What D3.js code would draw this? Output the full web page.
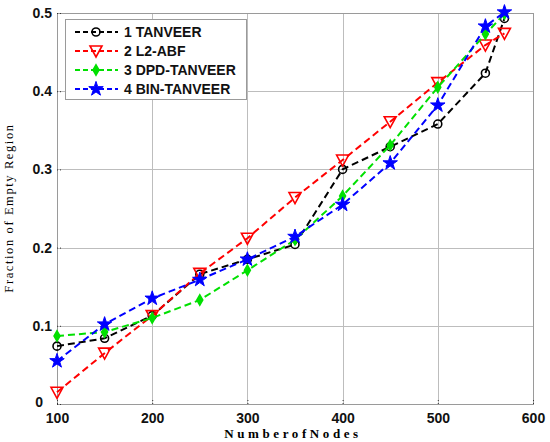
<!DOCTYPE html>
<html lang="en">
<head>
    <meta charset="utf-8">
    <script src="https://d3js.org/d3.v7.min.js"></script>
    <style>
        body { margin: 0; background: white; }
        .grid line { stroke: #bdbdbd; stroke-width: 1; shape-rendering: crispEdges; }
        .grid path { stroke-width: 0; }
        .tick-label { font-family: "Liberation Sans", Arial, sans-serif; font-weight: bold; font-size: 14px; }
    </style>
</head>
<body>
<div id="chart"></div>
<script>
    // data
    const nodes = [100, 150, 200, 250, 300, 350, 400, 450, 500, 550, 570];
    const tanveer = [0.074, 0.084, 0.113, 0.166, 0.185, 0.204, 0.300, 0.329, 0.358, 0.423, 0.493];
    const l2abf = [0.015, 0.065, 0.113, 0.167, 0.212, 0.264, 0.312, 0.361, 0.411, 0.459, 0.474];
    const dpdTanveer = [0.087, 0.092, 0.110, 0.133, 0.171, 0.210, 0.266, 0.331, 0.405, 0.473, 0.499];
    const binTanveer = [0.055, 0.102, 0.135, 0.159, 0.185, 0.214, 0.255, 0.308, 0.382, 0.483, 0.501];
    const seriesNames = ["1 TANVEER", "2 L2-ABF", "3 DPD-TANVEER", "4 BIN-TANVEER"];
    const xTicks = [100, 200, 300, 400, 500, 600];
    const yTicks = [0, 0.1, 0.2, 0.3, 0.4, 0.5];

    const series = [
        { name: seriesNames[0], values: tanveer, color: "black", marker: "circle" },
        { name: seriesNames[1], values: l2abf, color: "red", marker: "triangle" },
        { name: seriesNames[2], values: dpdTanveer, color: "#00e000", marker: "diamond" },
        { name: seriesNames[3], values: binTanveer, color: "blue", marker: "star" }
    ];

    const W = 550, H = 442;
    const margin = { top: 13, right: 17, bottom: 38, left: 57 };
    const width = W - margin.left - margin.right;
    const height = H - margin.top - margin.bottom;

    const svg = d3.select("#chart").append("svg")
        .attr("width", W).attr("height", H)
        .append("g")
        .attr("transform", `translate(${margin.left},${margin.top})`);

    const x = d3.scaleLinear().domain([100, 600]).range([0, width]);
    const y = d3.scaleLinear().domain([0, 0.5]).range([height, 0]);

    // grid lines
    svg.append("g").attr("class", "grid")
        .attr("transform", `translate(0,${height})`)
        .call(d3.axisBottom(x).tickValues(xTicks).tickSize(-height).tickFormat(""));
    svg.append("g").attr("class", "grid")
        .call(d3.axisLeft(y).tickValues(yTicks).tickSize(-width).tickFormat(""));

    // box
    svg.append("rect")
        .attr("width", width).attr("height", height)
        .attr("fill", "none").attr("stroke", "#9a9a9a").attr("stroke-width", 1)
        .attr("shape-rendering", "crispEdges");

    // small inner tick marks
    const xAxis = svg.append("g").attr("transform", `translate(0,${height})`)
        .call(d3.axisBottom(x).tickValues(xTicks).tickSize(-4).tickPadding(9).tickFormat(d3.format("d")));
    const yAxis = svg.append("g")
        .call(d3.axisLeft(y).tickValues(yTicks).tickSize(-4).tickPadding(5)
            .tickFormat(d => d === 0 ? "0" : d3.format(".1f")(d)));
    [xAxis, yAxis].forEach(a => {
        a.select(".domain").remove();
        a.selectAll(".tick line").attr("stroke", "#333").attr("stroke-dasharray", "1,2");
        a.selectAll(".tick text").attr("class", "tick-label").attr("fill", "#111");
    });
    // the "0" label sits left of the "100" label, as in the original
    yAxis.selectAll(".tick text").filter(d => d === 0).attr("x", -14).attr("dy", "0.2em");

    // axis titles
    svg.append("text")
        .attr("x", 236).attr("y", height + 34)
        .attr("text-anchor", "middle")
        .style("font-family", "'Liberation Serif', 'DejaVu Serif', serif")
        .style("font-weight", "bold").style("font-size", "13px")
        .style("letter-spacing", "3.6px")
        .text("NumberofNodes");

    svg.append("text")
        .attr("transform", `translate(${-44},${208 - margin.top}) rotate(-90)`)
        .attr("text-anchor", "middle")
        .style("font-family", "'Liberation Serif', 'DejaVu Serif', serif")
        .style("font-size", "12.5px")
        .style("letter-spacing", "1.6px")
        .text("Fraction of Empty Region");

    // marker shapes
    function markerPath(type) {
        if (type === "circle") return d3.symbol(d3.symbolCircle, 50)();
        if (type === "triangle") return "M-6,-5L6,-5L0,6Z";
        if (type === "diamond") return d3.symbol(d3.symbolDiamond, 30)();
        return d3.symbol(d3.symbolStar, 65)();
    }

    const line = d3.line().x((d, i) => x(nodes[i])).y(d => y(d));

    series.forEach(s => {
        const g = svg.append("g");
        g.append("path")
            .datum(s.values)
            .attr("d", line)
            .attr("fill", "none")
            .attr("stroke", s.color)
            .attr("stroke-width", 2)
            .attr("stroke-dasharray", "7,4");
        g.selectAll("path.mark")
            .data(s.values)
            .join("path")
            .attr("class", "mark")
            .attr("transform", (d, i) => `translate(${x(nodes[i])},${y(d)})`)
            .attr("d", markerPath(s.marker))
            .attr("fill", s.marker === "diamond" || s.marker === "star" ? s.color : "none")
            .attr("stroke", s.color)
            .attr("stroke-width", s.marker === "star" ? 1 : 1.6);
    });

    // legend
    const legend = svg.append("g").attr("transform", "translate(8,6)");
    legend.append("rect")
        .attr("width", 181).attr("height", 80)
        .attr("fill", "white").attr("stroke", "#9a9a9a")
        .attr("shape-rendering", "crispEdges");
    series.forEach((s, i) => {
        const ly = 13 + i * 19;
        legend.append("line")
            .attr("x1", 10).attr("x2", 53).attr("y1", ly).attr("y2", ly)
            .attr("stroke", s.color).attr("stroke-width", 2)
            .attr("stroke-dasharray", "5,3");
        legend.append("path")
            .attr("transform", `translate(31,${ly})`)
            .attr("d", markerPath(s.marker))
            .attr("fill", s.marker === "diamond" || s.marker === "star" ? s.color : "none")
            .attr("stroke", s.color)
            .attr("stroke-width", s.marker === "star" ? 1 : 1.6);
        legend.append("text")
            .attr("x", 59).attr("y", ly + 5)
            .attr("class", "tick-label")
            .attr("fill", "#111")
            .text(s.name);
    });
</script>
</body>
</html>
